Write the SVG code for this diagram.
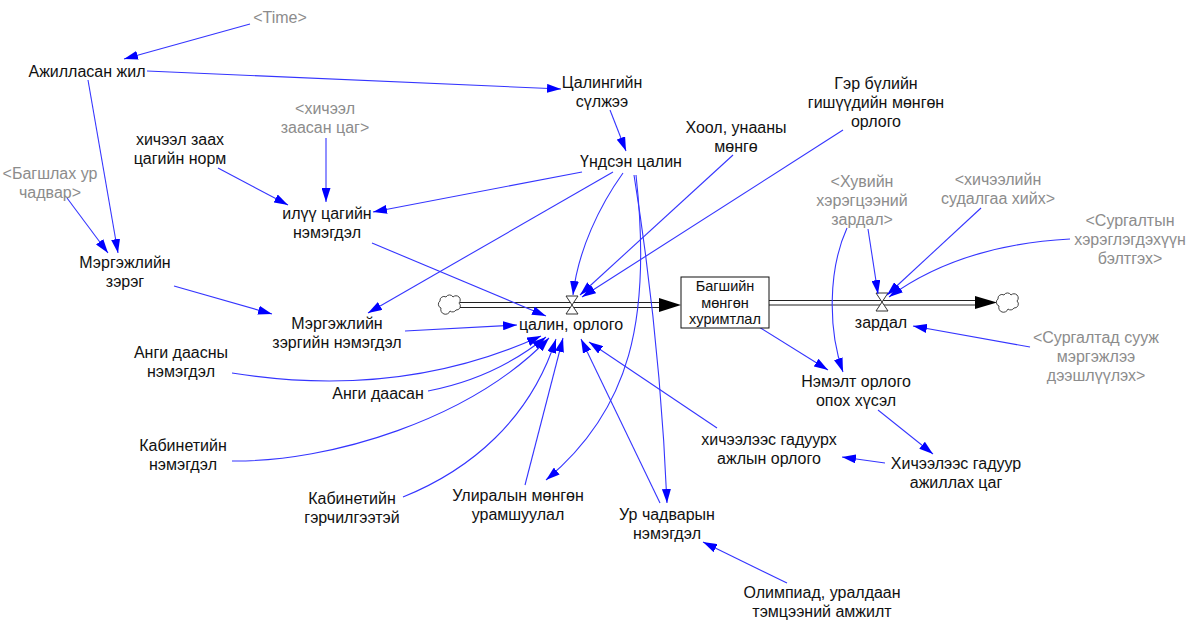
<svg xmlns="http://www.w3.org/2000/svg" width="1196" height="626" viewBox="0 0 1196 626">
<style>
text{font-family:"Liberation Sans",Arial,sans-serif;font-size:16px;fill:#111;text-anchor:middle}
text.g{fill:#8c8c8c}
text.s{font-size:14.5px}
.c{fill:none;stroke:#3535ff;stroke-width:1.1}
.pipe{stroke:#222;stroke-width:1.2;fill:none}
.valve{fill:#fff;stroke:#333;stroke-width:1}
.cloud{fill:#fff;stroke:#444;stroke-width:1}
</style>
<defs>
<marker id="a" viewBox="0 0 14 9" refX="14" refY="4.5" markerWidth="14" markerHeight="9" markerUnits="userSpaceOnUse" orient="auto">
<path d="M0,0 L14,4.5 L0,9 z" fill="#0000ff"/>
</marker>
</defs>
<rect width="1196" height="626" fill="#fff"/>

<g id="flows">
<path class="cloud" d="M441,308 a4,4 0 0 1 -1,-7 a4,4 0 0 1 6,-4 a4,4 0 0 1 7,0 a4,4 0 0 1 6,6 a4,4 0 0 1 -3,7 a4,4 0 0 1 -6,1 a4,4 0 0 1 -9,-3 z"/>
<line class="pipe" x1="460" y1="302.5" x2="660" y2="302.5"/>
<line class="pipe" x1="460" y1="307.5" x2="660" y2="307.5"/>
<polygon points="659,298 681,305 659,312" fill="#000"/>
<path class="valve" d="M566,296 L578,296 L566,314 L578,314 Z"/>
<line class="pipe" x1="769" y1="300.5" x2="976" y2="300.5"/>
<line class="pipe" x1="769" y1="305" x2="976" y2="305"/>
<polygon points="975,296 997,302.5 975,309" fill="#000"/>
<path class="cloud" d="M999,306 a4,4 0 0 1 -1,-7 a4,4 0 0 1 6,-4 a4,4 0 0 1 7,0 a4,4 0 0 1 6,6 a4,4 0 0 1 -3,7 a4,4 0 0 1 -6,1 a4,4 0 0 1 -9,-3 z"/>
<path class="valve" d="M876,293 L888,293 L876,311 L888,311 Z"/>
</g>

<g id="connectors">
<path class="c" marker-end="url(#a)" d="M250,24 L124,59"/>
<path class="c" marker-end="url(#a)" d="M147,71 L561,89"/>
<path class="c" marker-end="url(#a)" d="M88,80 L118,253"/>
<path class="c" marker-end="url(#a)" d="M67,198 L108,253"/>
<path class="c" marker-end="url(#a)" d="M610,110 L626,151"/>
<path class="c" marker-end="url(#a)" d="M218,168 L288,205"/>
<path class="c" marker-end="url(#a)" d="M326,138 L326,202"/>
<path class="c" marker-end="url(#a)" d="M582,172 L373,212"/>
<path class="c" marker-end="url(#a)" d="M613,172 L368,313"/>
<path class="c" marker-end="url(#a)" d="M623,173 C600,205 578,250 573,295"/>
<path class="c" marker-end="url(#a)" d="M634,175 Q660,338 667,503"/>
<path class="c" marker-end="url(#a)" d="M636,175 C652,320 630,410 546,480"/>
<path class="c" marker-end="url(#a)" d="M733,155 L580,295"/>
<path class="c" marker-end="url(#a)" d="M843,130 L582,297"/>
<path class="c" marker-end="url(#a)" d="M372,243 L546,316"/>
<path class="c" marker-end="url(#a)" d="M405,331 L517,325"/>
<path class="c" marker-end="url(#a)" d="M232,373 Q400,400 541,336"/>
<path class="c" marker-end="url(#a)" d="M428,391 Q495,378 546,337"/>
<path class="c" marker-end="url(#a)" d="M232,461 C330,462 470,420 549,338"/>
<path class="c" marker-end="url(#a)" d="M403,497 C470,470 530,420 556,339"/>
<path class="c" marker-end="url(#a)" d="M525,485 L563,338"/>
<path class="c" marker-end="url(#a)" d="M660,503 L581,339"/>
<path class="c" marker-end="url(#a)" d="M717,428 L589,342"/>
<path class="c" marker-end="url(#a)" d="M787,583 L703,542"/>
<path class="c" marker-end="url(#a)" d="M885,463 L842,457"/>
<path class="c" marker-end="url(#a)" d="M878,410 L933,454"/>
<path class="c" marker-end="url(#a)" d="M759,327 L828,370"/>
<path class="c" marker-end="url(#a)" d="M847,228 C828,270 828,330 843,372"/>
<path class="c" marker-end="url(#a)" d="M868,229 L878,294"/>
<path class="c" marker-end="url(#a)" d="M981,208 L887,295"/>
<path class="c" marker-end="url(#a)" d="M1070,239 Q960,245 889,297"/>
<path class="c" marker-end="url(#a)" d="M1030,347 L913,326"/>
<path class="c" marker-end="url(#a)" d="M174,286 L272,314"/>
</g>

<g id="time"><text class="g" x="280" y="23">&lt;Time&gt;</text></g>
<g id="ajillasan"><text x="87" y="77">Ажилласан жил</text></g>
<g id="tsalingiin"><text x="602" y="88">Цалингийн</text><text x="602" y="107">сүлжээ</text></g>
<g id="undsen"><text x="631" y="167">Үндсэн цалин</text></g>
<g id="hool"><text x="736" y="133">Хоол, унааны</text><text x="736" y="152">мөнгө</text></g>
<g id="gerbul"><text x="876" y="89">Гэр бүлийн</text><text x="876" y="108">гишүүдийн мөнгөн</text><text x="876" y="127">орлого</text></g>
<g id="ilvv"><text x="327" y="219">илүү цагийн</text><text x="327" y="238">нэмэгдэл</text></g>
<g id="norm"><text x="180" y="145">хичээл заах</text><text x="180" y="164">цагийн норм</text></g>
<g id="zaasan"><text class="g" x="325" y="114">&lt;хичээл</text><text class="g" x="325" y="133">заасан цаг&gt;</text></g>
<g id="bagshlah"><text class="g" x="50" y="179">&lt;Багшлах ур</text><text class="g" x="50" y="198">чадвар&gt;</text></g>
<g id="mergejil"><text x="125" y="268">Мэргэжлийн</text><text x="125" y="287">зэрэг</text></g>
<g id="mergejil_nem"><text x="337" y="329">Мэргэжлийн</text><text x="337" y="348">зэргийн нэмэгдэл</text></g>
<g id="angi_nem"><text x="181" y="358">Анги даасны</text><text x="181" y="377">нэмэгдэл</text></g>
<g id="angi"><text x="378" y="399">Анги даасан</text></g>
<g id="tsalin"><text x="571" y="330">цалин, орлого</text></g>
<g id="kab_nem"><text x="183" y="451">Кабинетийн</text><text x="183" y="470">нэмэгдэл</text></g>
<g id="kab_ger"><text x="352" y="504">Кабинетийн</text><text x="352" y="523">гэрчилгээтэй</text></g>
<g id="uliral"><text x="518" y="501">Улиралын мөнгөн</text><text x="518" y="520">урамшуулал</text></g>
<g id="urchadvar"><text x="667" y="520">Ур чадварын</text><text x="667" y="539">нэмэгдэл</text></g>
<g id="gaduurh"><text x="769" y="445">хичээлээс гадуурх</text><text x="769" y="464">ажлын орлого</text></g>
<g id="gaduur_tsag"><text x="956" y="469">Хичээлээс гадуур</text><text x="956" y="488">ажиллах цаг</text></g>
<g id="olimp"><text x="822" y="598">Олимпиад, уралдаан</text><text x="822" y="617">тэмцээний амжилт</text></g>
<g id="nemelt"><text x="856" y="387">Нэмэлт орлого</text><text x="856" y="406">опох хүсэл</text></g>
<g id="zardal"><text x="881" y="328">зардал</text></g>
<g id="huviin"><text class="g" x="862" y="187">&lt;Хувийн</text><text class="g" x="862" y="206">хэрэгцээний</text><text class="g" x="862" y="225">зардал&gt;</text></g>
<g id="sudalgaa"><text class="g" x="998" y="185">&lt;хичээлийн</text><text class="g" x="998" y="204">судалгаа хийх&gt;</text></g>
<g id="surgaltyn"><text class="g" x="1130" y="226">&lt;Сургалтын</text><text class="g" x="1130" y="245">хэрэглэгдэхүүн</text><text class="g" x="1130" y="264">бэлтгэх&gt;</text></g>
<g id="surgaltad"><text class="g" x="1096" y="343">&lt;Сургалтад сууж</text><text class="g" x="1096" y="362">мэргэжлээ</text><text class="g" x="1096" y="381">дээшлүүлэх&gt;</text></g>
<g id="stock">
<rect x="681" y="277" width="88" height="51" fill="#fff" stroke="#111" stroke-width="1"/>
<text class="s" x="725" y="291">Багшийн</text><text class="s" x="725" y="307.5">мөнгөн</text><text class="s" x="725" y="324">хуримтлал</text>
</g>
</svg>
